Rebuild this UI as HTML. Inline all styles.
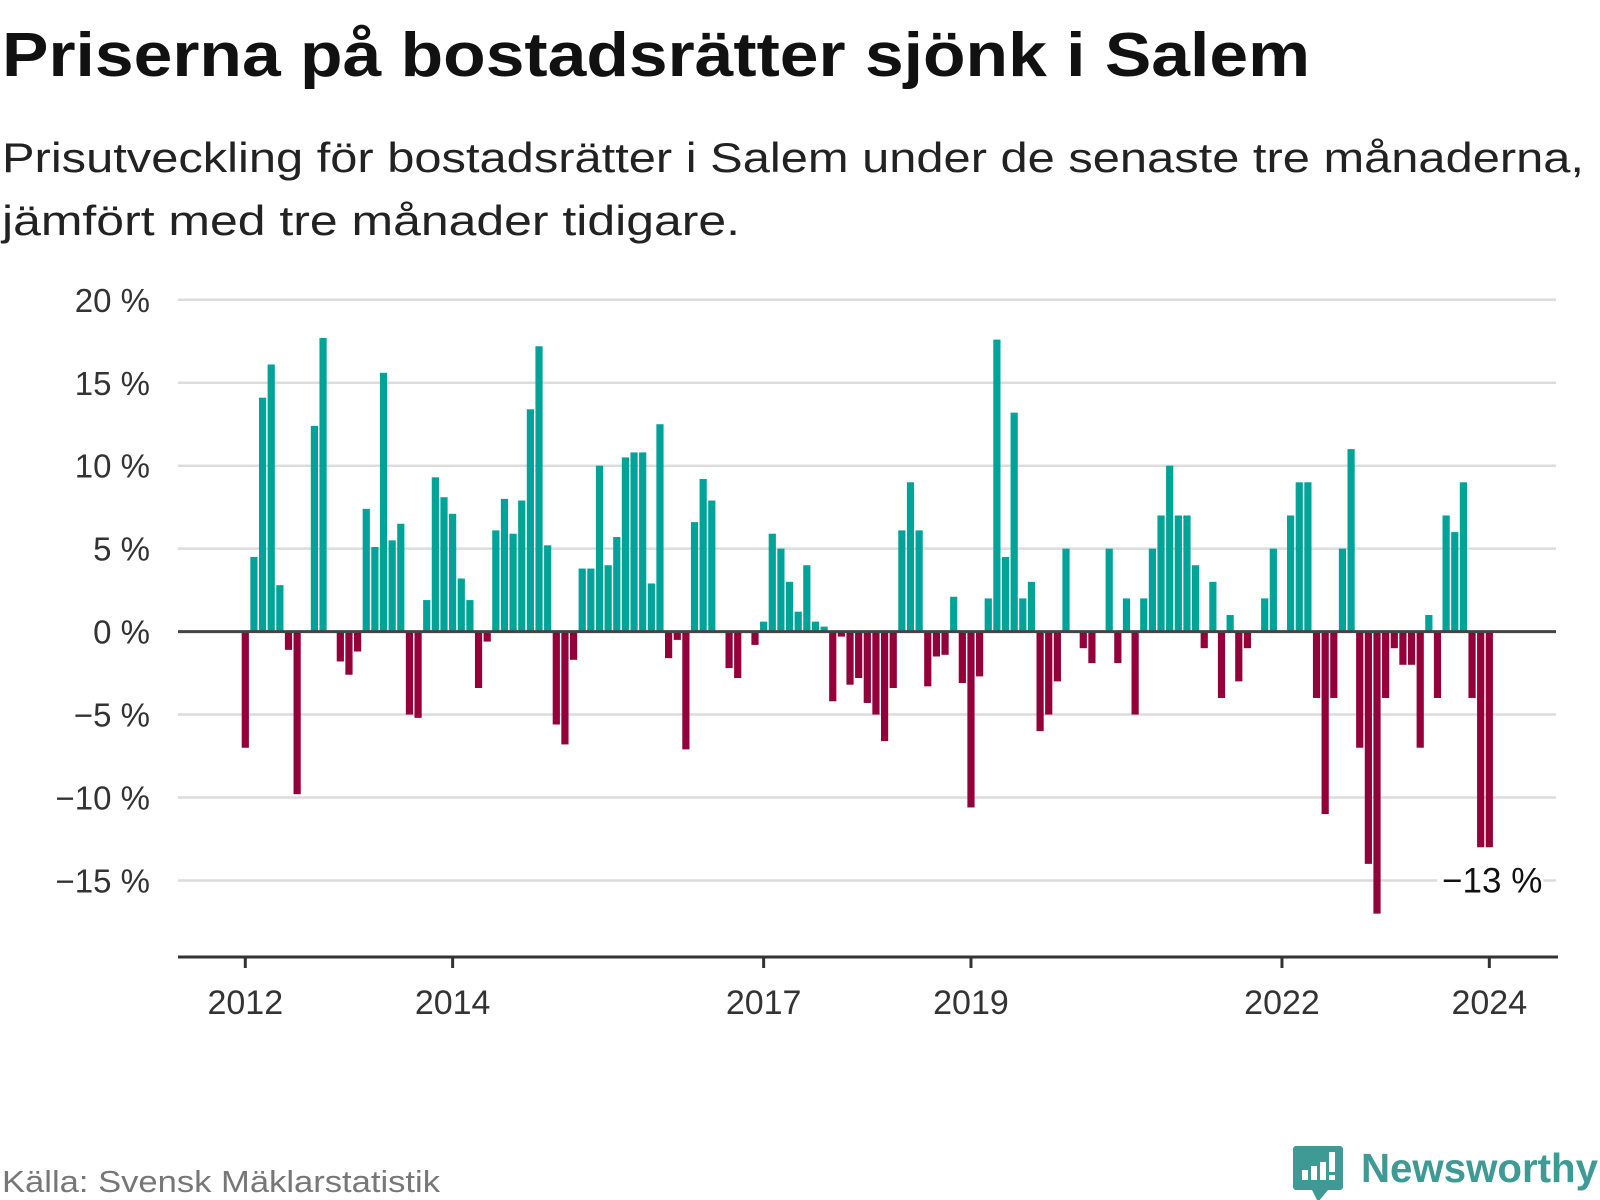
<!DOCTYPE html>
<html><head><meta charset="utf-8"><style>
html,body{margin:0;padding:0;background:#fff;}
svg{display:block;font-family:"Liberation Sans",sans-serif;}
</style></head><body>
<svg id="chart" width="1600" height="1200" viewBox="0 0 1600 1200">
<text x="2" y="76" font-size="62" font-weight="bold" fill="#111" textLength="1308" lengthAdjust="spacingAndGlyphs">Priserna på bostadsrätter sjönk i Salem</text>
<text x="2" y="172" font-size="42" fill="#222" textLength="1582" lengthAdjust="spacingAndGlyphs">Prisutveckling för bostadsrätter i Salem under de senaste tre månaderna,</text>
<text x="2" y="235" font-size="42" fill="#222" textLength="738" lengthAdjust="spacingAndGlyphs">jämfört med tre månader tidigare.</text>
<g id="grid"></g>
<g id="bars"></g>
<g id="axes"></g>
<text x="2" y="1192" font-size="31" fill="#777" textLength="438" lengthAdjust="spacingAndGlyphs">Källa: Svensk Mäklarstatistik</text>
<g>
<path d="M1296 1146 h44 a3 3 0 0 1 3 3 v38 a3 3 0 0 1 -3 3 h-12 l-10 12 l-6 -12 h-16 a3 3 0 0 1 -3 -3 v-38 a3 3 0 0 1 3 -3z" fill="#3f9a95"/>
<rect x="1302" y="1170" width="6" height="10" fill="#fff"/>
<rect x="1311" y="1166" width="6" height="14" fill="#fff"/>
<rect x="1320" y="1162" width="6" height="18" fill="#fff"/>
<rect x="1329" y="1152" width="6" height="20" fill="#fff"/>
<rect x="1329" y="1175" width="6" height="5" fill="#fff"/>
<text x="1361" y="1182" font-size="41" font-weight="bold" fill="#3f9a95" textLength="237" lengthAdjust="spacingAndGlyphs">Newsworthy</text>
</g>
</svg>
<script>
const values = [
-7.0,4.5,14.1,16.1,2.8,-1.1,-9.8,0,12.4,17.7,0,-1.8,
-2.6,-1.2,7.4,5.1,15.6,5.5,6.5,-5.0,-5.2,1.9,9.3,8.1,
7.1,3.2,1.9,-3.4,-0.6,6.1,8.0,5.9,7.9,13.4,17.2,5.2,
-5.6,-6.8,-1.7,3.8,3.8,10.0,4.0,5.7,10.5,10.8,10.8,2.9,
12.5,-1.6,-0.5,-7.1,6.6,9.2,7.9,0,-2.2,-2.8,0,-0.8,
0.6,5.9,5.0,3.0,1.2,4.0,0.6,0.3,-4.2,-0.3,-3.2,-2.8,
-4.3,-5.0,-6.6,-3.4,6.1,9.0,6.1,-3.3,-1.5,-1.4,2.1,-3.1,
-10.6,-2.7,2.0,17.6,4.5,13.2,2.0,3.0,-6.0,-5.0,-3.0,5.0,
0,-1.0,-1.9,0,5.0,-1.9,2.0,-5.0,2.0,5.0,7.0,10.0,
7.0,7.0,4.0,-1.0,3.0,-4.0,1.0,-3.0,-1.0,0,2.0,5.0,
0,7.0,9.0,9.0,-4.0,-11.0,-4.0,5.0,11.0,-7.0,-14.0,-17.0,
-4.0,-1.0,-2.0,-2.0,-7.0,1.0,-4.0,7.0,6.0,9.0,-4.0,-13.0,-13.0
];
const startYear = 2012;
const yTicks = [20,15,10,5,0,-5,-10,-15];
const yTickLabels = ["20 %","15 %","10 %","5 %","0 %","−5 %","−10 %","−15 %"];
const xTickYears = [2012,2014,2017,2019,2022,2024];
const lastLabel = "−13 %";

const NS="http://www.w3.org/2000/svg";
const X0=245.3, MONTH=8.639, Y0=631.6, PER=16.59, LEFT=178, RIGHT=1556, BASE=957;
const xScale = i => X0 + i*MONTH;
const yScale = v => Y0 - v*PER;
function mk(tag, attrs, parent){const e=document.createElementNS(NS,tag);for(const k in attrs)e.setAttribute(k,attrs[k]);parent.appendChild(e);return e;}
const grid=document.getElementById('grid'), bars=document.getElementById('bars'), axes=document.getElementById('axes');

yTicks.forEach((t,k)=>{
  if(t!==0){
    const l=mk('line',{x1:LEFT,x2:RIGHT,y1:yScale(t),y2:yScale(t),stroke:'#dcdcdc','stroke-width':2.5},grid);
    
    
  }
  const tx=mk('text',{x:150,y:yScale(t)+12,'font-size':33,fill:'#333','text-anchor':'end'},axes);
  tx.textContent=yTickLabels[k];
  
  
});

values.forEach((v,i)=>{
  if(v===0) return;
  const y=Math.min(yScale(v),Y0), h=Math.abs(yScale(v)-Y0);
  const r=mk('rect',{x:xScale(i)-3.6,y:y,width:7.2,height:h,fill:v>0?'#00a398':'#93003a'},bars);
  
  
});

const z=mk('line',{x1:LEFT,x2:RIGHT,y1:Y0,y2:Y0,stroke:'#444','stroke-width':3},axes);


const ax=mk('line',{x1:LEFT,x2:RIGHT+2,y1:BASE,y2:BASE,stroke:'#333','stroke-width':3},axes);


xTickYears.forEach(yr=>{
  const x=xScale((yr-startYear)*12);
  const t=mk('line',{x1:x,x2:x,y1:BASE,y2:BASE+11,stroke:'#333','stroke-width':3},axes);
  
  
  const tx=mk('text',{x:x,y:1014,'font-size':34,fill:'#333','text-anchor':'middle'},axes);
  tx.textContent=String(yr);
  
  
});

const li=values.length-1;
const bg=mk('rect',{x:xScale(li)-52,y:yScale(-15)-18,width:106,height:34,fill:'#fff'},axes);


const vl=mk('text',{x:xScale(li)+53,y:yScale(-15)+12,'font-size':35,fill:'#111','text-anchor':'end'},axes);
vl.textContent=lastLabel;


</script>
</body></html>
